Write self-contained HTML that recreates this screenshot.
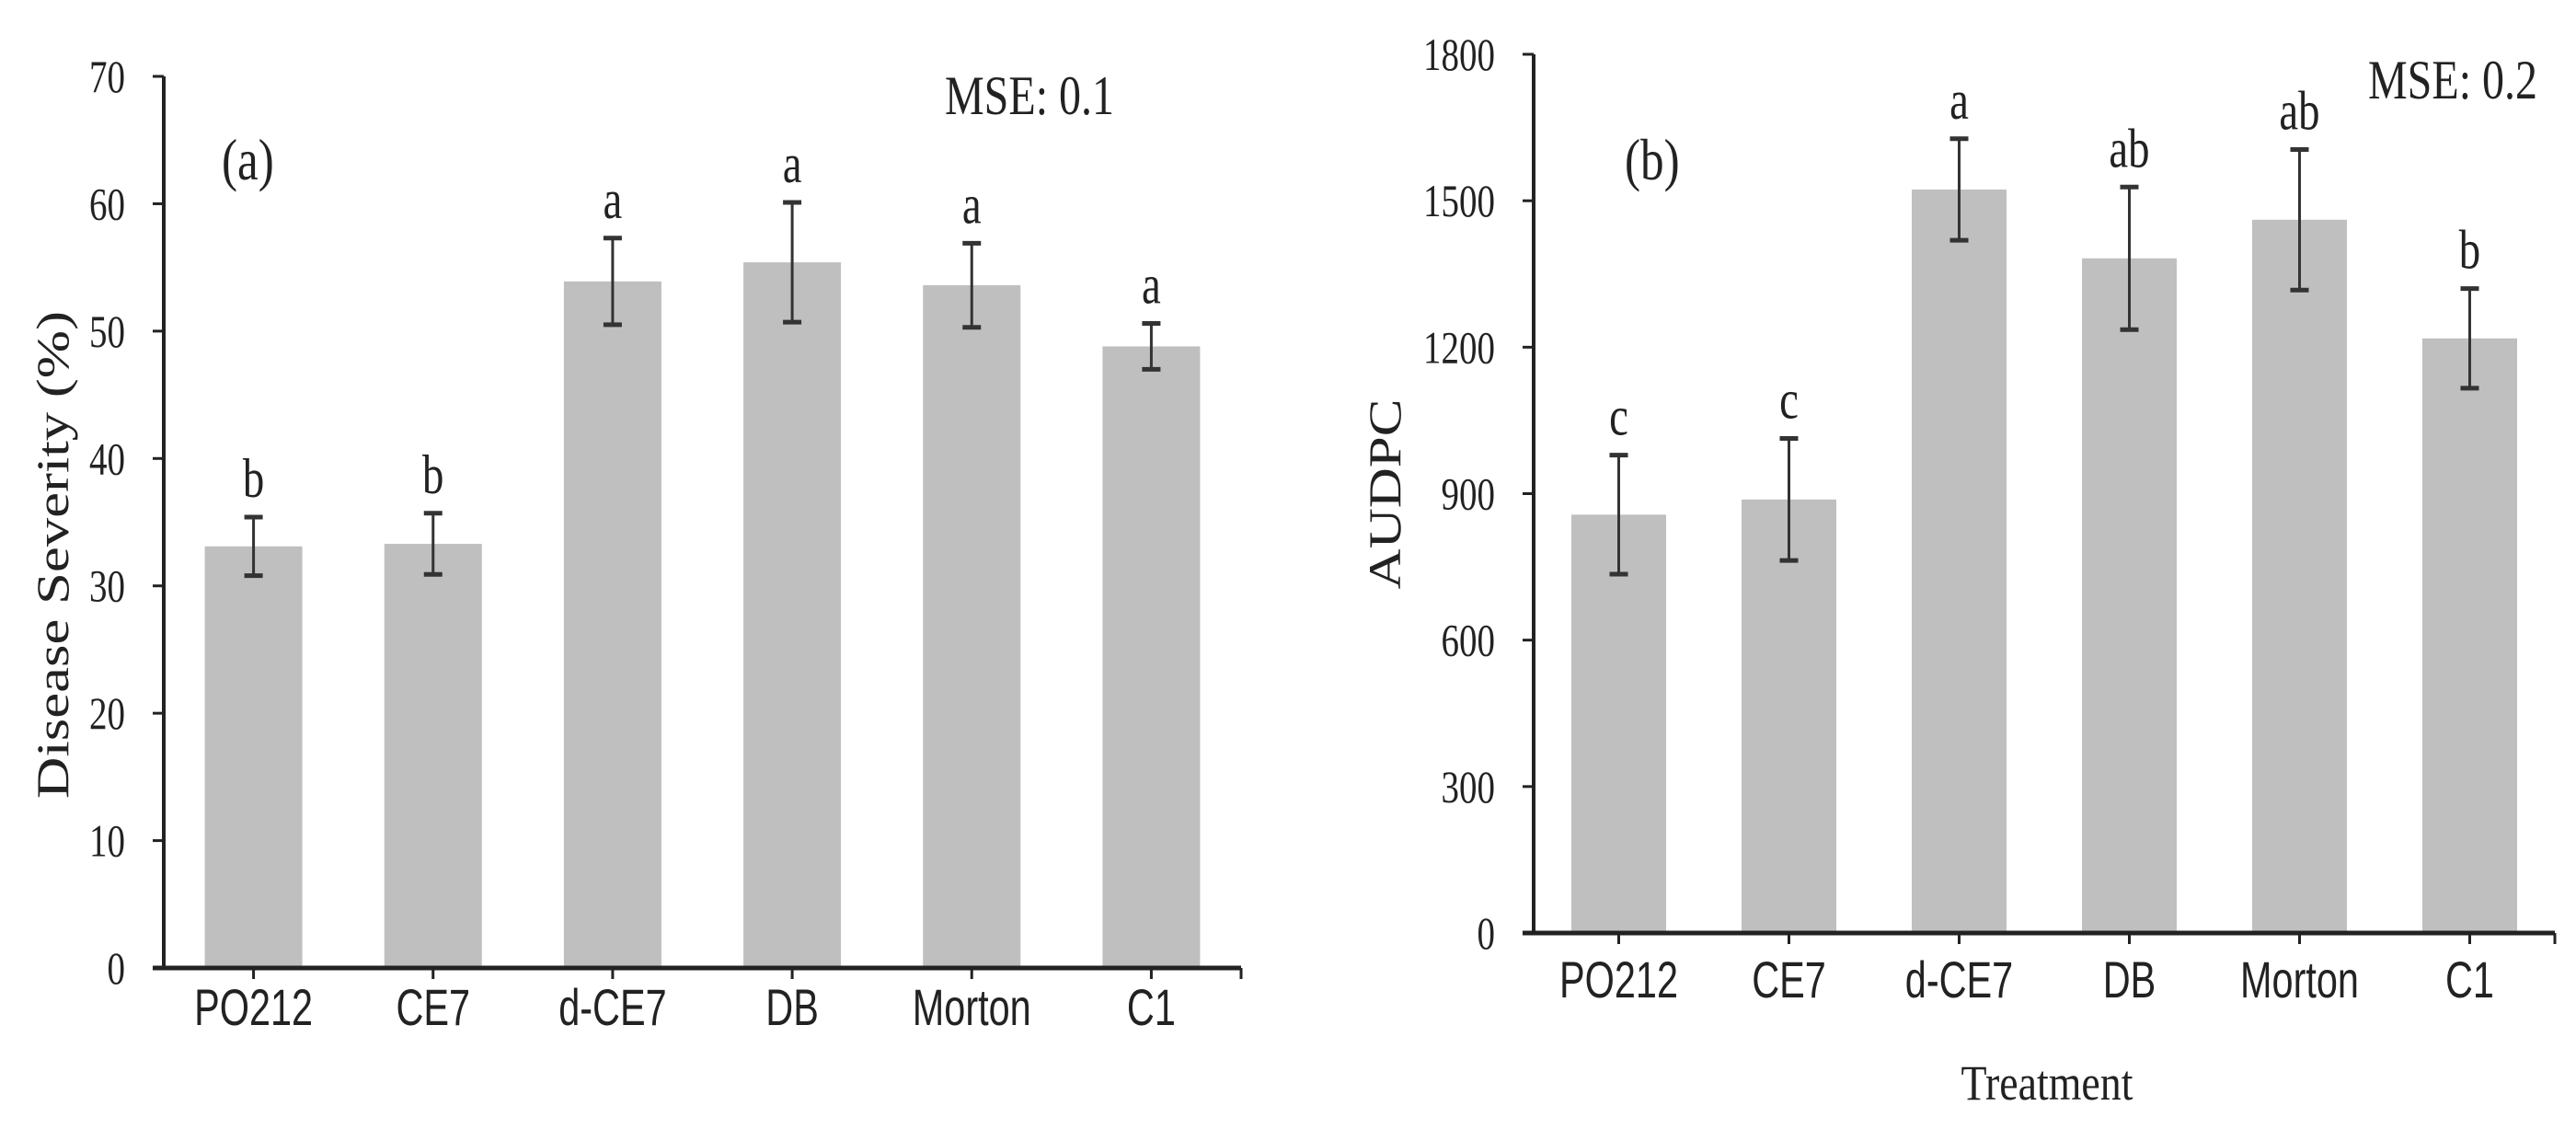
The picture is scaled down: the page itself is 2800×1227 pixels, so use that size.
<!DOCTYPE html>
<html><head><meta charset="utf-8"><style>
html,body{margin:0;padding:0;background:#fff;}
svg{display:block;}
text{font-family:"Liberation Serif",serif;fill:#222;}
.sans{font-family:"Liberation Sans",sans-serif;}
</style></head><body>
<svg id="chart" width="2800" height="1227" viewBox="0 0 2800 1227" xmlns="http://www.w3.org/2000/svg"></svg>
<script>
const categories = ["PO212","CE7","d-CE7","DB","Morton","C1"];
const severityValues = [33.1,33.3,53.9,55.4,53.6,48.8];
const severityErrors = [2.3,2.4,3.4,4.7,3.3,1.8];
const severityLetters = ["b","b","a","a","a","a"];
const severityTicks = [0,10,20,30,40,50,60,70];
const audpcValues = [857,888,1523,1382,1461,1218];
const audpcErrors = [122,125,104,146,144,102];
const audpcLetters = ["c","c","a","ab","ab","b"];
const audpcTicks = [0,300,600,900,1200,1500,1800];

const NS="http://www.w3.org/2000/svg";
const svg=document.getElementById('chart');
function mk(tag,attrs,parent,txt){const e=document.createElementNS(NS,tag);for(const k in attrs)e.setAttribute(k,attrs[k]);if(txt!==undefined)e.textContent=txt;(parent||svg).appendChild(e);return e;}

function panel(cfg){
  const g=mk('g',{});
  
  
  const y=v=>cfg.y0-(v-cfg.min)/(cfg.max-cfg.min)*(cfg.y0-cfg.yTop);
  const band=(cfg.xEnd-cfg.x0)/categories.length;
  const cx=i=>cfg.x0+band*(i+0.5);
  categories.forEach((c,i)=>{
    const v=cfg.values[i];
    const r=mk('rect',{x:cx(i)-cfg.bw/2,y:y(v),width:cfg.bw,height:cfg.y0-y(v),fill:'#bfbfbf'},g);
    
    
    const e=cfg.errors[i];
    const eg=mk('g',{stroke:'#333','stroke-width':3},g);
    
    
    mk('line',{x1:cx(i),x2:cx(i),y1:y(v+e),y2:y(v-e)},eg);
    mk('line',{x1:cx(i)-10,x2:cx(i)+10,y1:y(v+e),y2:y(v+e),'stroke-width':5},eg);
    mk('line',{x1:cx(i)-10,x2:cx(i)+10,y1:y(v-e),y2:y(v-e),'stroke-width':5},eg);
    const t=mk('text',{x:0,y:0,'text-anchor':'middle','font-size':60,transform:`translate(${cx(i)},${y(v+e)-22}) scale(0.78,1)`},g,cfg.letters[i]);
    
    
    const lt=mk('text',{x:0,y:0,'text-anchor':'middle','font-size':56,class:'sans',transform:`translate(${cx(i)},${cfg.y0+cfg.labOff}) scale(0.74,1)`},g,c);
    
    
    mk('line',{x1:cx(i),x2:cx(i),y1:cfg.y0,y2:cfg.y0+12,stroke:'#222','stroke-width':3},g);
  });
  mk('line',{x1:cfg.xEnd,x2:cfg.xEnd,y1:cfg.y0,y2:cfg.y0+12,stroke:'#222','stroke-width':3},g);
  const ya=mk('line',{x1:cfg.x0,x2:cfg.x0,y1:cfg.yTop,y2:cfg.y0,stroke:'#222','stroke-width':4},g);
  
  
  const xa=mk('line',{x1:cfg.x0-12,x2:cfg.xEnd,y1:cfg.y0,y2:cfg.y0,stroke:'#222','stroke-width':5},g);
  
  
  cfg.ticks.forEach(t=>{
    mk('line',{x1:cfg.x0-12,x2:cfg.x0,y1:y(t),y2:y(t),stroke:'#222','stroke-width':3},g);
    const tl=mk('text',{x:0,y:0,'text-anchor':'end','font-size':50,transform:`translate(${cfg.x0-42},${y(t)+17}) scale(0.78,1)`},g,String(t));
    
    
  });
  const yt=mk('text',{x:0,y:0,'text-anchor':'middle','font-size':50,textLength:cfg.titleLen,lengthAdjust:'spacingAndGlyphs',transform:`translate(${cfg.titleX},${cfg.titleY}) rotate(-90)`},g,cfg.title);
  
  
  const pl=mk('text',{x:0,y:0,'font-size':64,transform:`translate(${cfg.panelX},195) scale(0.8,1)`},g,cfg.panel);
  
  
  const ms=mk('text',{x:0,y:0,'font-size':60,transform:`translate(${cfg.mseX},${cfg.mseY}) scale(0.8,1)`},g,cfg.mse);
  
  
}

panel({name:'panel-a-disease-severity',values:severityValues,errors:severityErrors,letters:severityLetters,ticks:severityTicks,
  min:0,max:70,x0:178,xEnd:1349,y0:1052,yTop:83,bw:106,labOff:62,
  title:'Disease Severity (%)',titleLen:530,titleX:74,titleY:603,panel:'(a)',panelX:241,mse:'MSE: 0.1',mseX:1027,mseY:124});
panel({name:'panel-b-audpc',values:audpcValues,errors:audpcErrors,letters:audpcLetters,ticks:audpcTicks,
  min:0,max:1800,x0:1667,xEnd:2777,y0:1014,yTop:59,bw:103,labOff:70,
  title:'AUDPC',titleLen:207,titleX:1522,titleY:537,panel:'(b)',panelX:1766,mse:'MSE: 0.2',mseX:2574,mseY:107});

const xt=mk('text',{x:0,y:0,'text-anchor':'middle','font-size':54,transform:'translate(2225,1195) scale(0.85,1)'},svg,'Treatment');


</script>
</body></html>
